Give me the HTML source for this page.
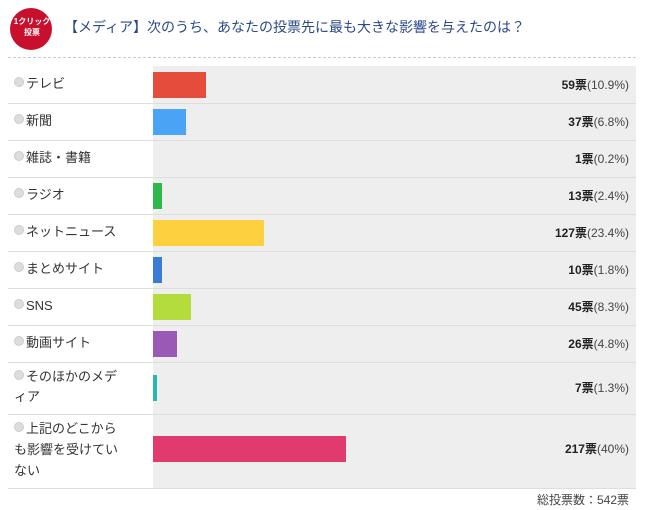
<!DOCTYPE html>
<html><head><meta charset="utf-8"><style>
body{margin:0;width:645px;height:510px;background:#fff;font-family:"Liberation Sans","Noto Sans CJK JP",sans-serif;position:relative;overflow:hidden;color:#333}
.a{position:absolute}
.lab{position:absolute;left:14px;font-size:13px;line-height:20px;color:#333}
.lab i{display:inline-block;width:10px;height:10px;border-radius:50%;background:#ddd;border:1px solid #ccc;box-sizing:border-box;margin-right:2px;vertical-align:1px}
.val{position:absolute;right:16px;font-size:12px;color:#444}
.val b{color:#222}
.sep{position:absolute;left:8px;width:628px;height:1px;background:#ddd}
.bar{position:absolute;left:153px;height:26px}
</style></head><body>
<div class="a" style="left:10px;top:8px;width:42px;height:42px;border-radius:50%;background:#c8102e"></div>
<div class="a" style="left:8px;top:16px;width:48px;font-size:8px;font-weight:bold;color:#fff;text-align:center;line-height:11px">1クリック<br>投票</div>
<div class="a" style="left:64px;top:17px;font-size:14px;color:#2a4a8a">【メディア】次のうち、あなたの投票先に最も大きな影響を与えたのは？</div>
<div class="a" style="left:8px;top:57px;width:628px;border-top:1px dashed #ccc"></div>
<div class="a" style="left:153px;top:66px;width:483px;height:422px;background:#eee"></div>

<div class="lab" style="top:74px"><i></i>テレビ</div>
<div class="bar" style="top:72px;width:53px;background:#e64c3c"></div>
<div class="val" style="top:76px"><b>59票</b>(10.9%)</div>
<div class="sep" style="top:103px"></div>

<div class="lab" style="top:111px"><i></i>新聞</div>
<div class="bar" style="top:109px;width:33px;background:#4aa3f5"></div>
<div class="val" style="top:113px"><b>37票</b>(6.8%)</div>
<div class="sep" style="top:140px"></div>

<div class="lab" style="top:148px"><i></i>雑誌・書籍</div>
<div class="val" style="top:150px"><b>1票</b>(0.2%)</div>
<div class="sep" style="top:177px"></div>

<div class="lab" style="top:185px"><i></i>ラジオ</div>
<div class="bar" style="top:183px;width:9px;background:#2fb84a"></div>
<div class="val" style="top:187px"><b>13票</b>(2.4%)</div>
<div class="sep" style="top:214px"></div>

<div class="lab" style="top:222px"><i></i>ネットニュース</div>
<div class="bar" style="top:220px;width:111px;background:#fdd03f"></div>
<div class="val" style="top:224px"><b>127票</b>(23.4%)</div>
<div class="sep" style="top:251px"></div>

<div class="lab" style="top:259px"><i></i>まとめサイト</div>
<div class="bar" style="top:257px;width:9px;background:#3a7bd5"></div>
<div class="val" style="top:261px"><b>10票</b>(1.8%)</div>
<div class="sep" style="top:288px"></div>

<div class="lab" style="top:296px"><i></i>SNS</div>
<div class="bar" style="top:294px;width:38px;background:#b4dc3c"></div>
<div class="val" style="top:298px"><b>45票</b>(8.3%)</div>
<div class="sep" style="top:325px"></div>

<div class="lab" style="top:333px"><i></i>動画サイト</div>
<div class="bar" style="top:331px;width:24px;background:#9b59b6"></div>
<div class="val" style="top:335px"><b>26票</b>(4.8%)</div>
<div class="sep" style="top:362px"></div>

<div class="lab" style="top:367px;width:130px"><i></i>そのほかのメデ<br>ィア</div>
<div class="bar" style="top:375px;width:4px;background:#2ab5b5"></div>
<div class="val" style="top:379px"><b>7票</b>(1.3%)</div>
<div class="sep" style="top:414px"></div>

<div class="lab" style="top:418px;width:130px;line-height:21px"><i></i>上記のどこから<br>も影響を受けてい<br>ない</div>
<div class="bar" style="top:436px;width:193px;background:#e03a6e"></div>
<div class="val" style="top:440px"><b>217票</b>(40%)</div>
<div class="sep" style="top:488px"></div>

<div class="a" style="right:16px;top:491px;font-size:12px;color:#444">総投票数：542票</div>
</body></html>
